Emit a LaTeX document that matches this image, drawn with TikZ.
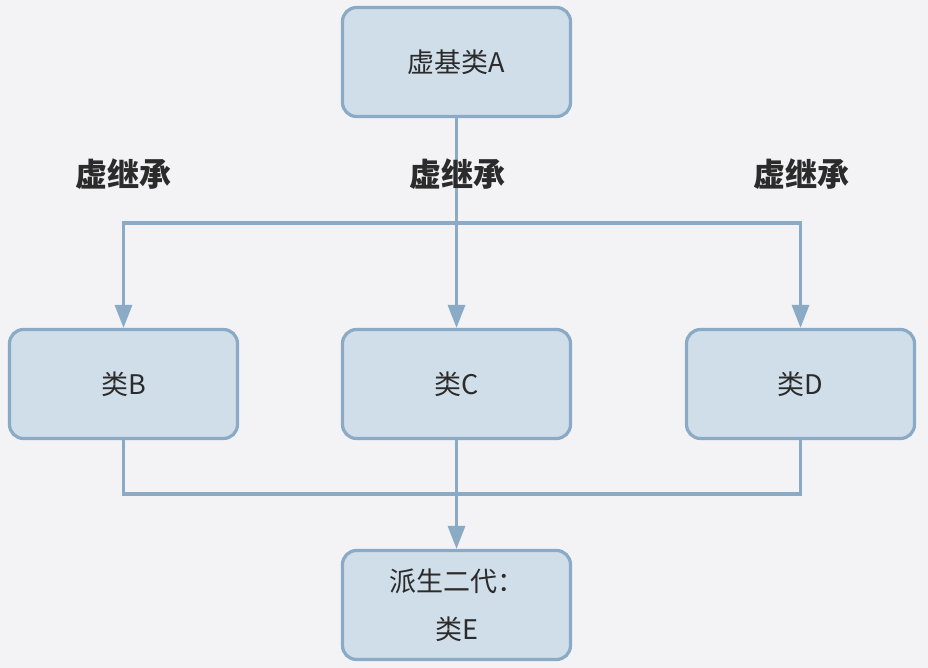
\documentclass[tikz,border=0pt]{standalone}
\usepackage{fontspec}
\setmainfont{Noto Sans CJK SC}
\usetikzlibrary{arrows.meta}
\definecolor{bg}{HTML}{F3F3F6}
\definecolor{boxfill}{HTML}{D0DEE9}
\definecolor{edge}{HTML}{8AAAC5}
\definecolor{txt}{HTML}{2B2B2B}
\tikzset{
  box/.style={draw=edge, fill=boxfill, line width=3.2pt, rounded corners=14pt,
    minimum width=228pt, minimum height=109pt, inner sep=0pt, text=txt,
    font=\fontsize{27}{30}\selectfont, align=center},
  conn/.style={draw=edge, line width=3.2pt},
  arr/.style={conn, -{Triangle[width=17pt,length=23pt]}},
  lbl/.style={text=txt, font=\fontsize{32}{36}\selectfont\bfseries}
}
\begin{document}
\begin{tikzpicture}[x=1pt,y=-1pt]
\fill[bg] (0,0) rectangle (928,668);
\useasboundingbox (0,0) rectangle (928,668);
\node[box] (A) at (456.5,62) {虚基类A};
\node[box] (B) at (123.5,384) {类B};
\node[box] (C) at (456.5,384) {类C};
\node[box] (D) at (800.5,384) {类D};
\node[box, font=\fontsize{27}{48}\selectfont] (E) at (456.5,605) {派生二代：\\类E};
\coordinate (top) at (456.5,223);
\coordinate (bot) at (456.5,494);
\draw[arr] (A.south) -- (C.north);
\draw[arr] (top) -| (B.north);
\draw[arr] (top) -| (D.north);
\draw[conn] (B.south) |- (bot) -| (D.south);
\draw[arr] (C.south) -- (E.north);
\node[lbl] (L1) at (123,174) {虚继承};
\node[lbl] (L2) at (457,174) {虚继承};
\node[lbl] (L3) at (801,174) {虚继承};
\end{tikzpicture}
\end{document}
